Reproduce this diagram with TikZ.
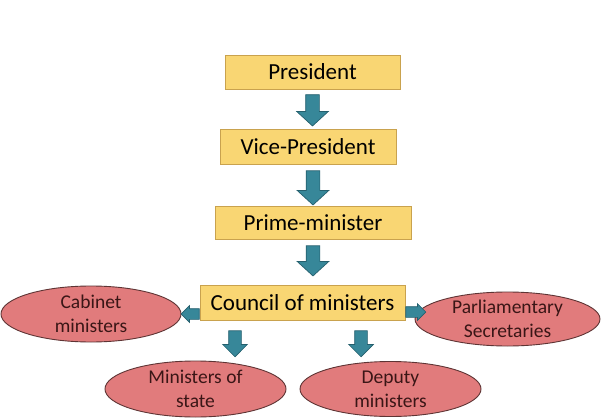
\documentclass[tikz,border=0pt]{standalone}
\usepackage{fontspec}
\setmainfont{Carlito}
\usetikzlibrary{shapes.geometric,shapes.arrows,calc}
\definecolor{boxfill}{HTML}{F9D673}
\definecolor{boxline}{HTML}{C9A24E}
\definecolor{ellfill}{HTML}{E17B7C}
\definecolor{ellline}{HTML}{5E3434}
\definecolor{arrfill}{HTML}{378799}
\definecolor{arrline}{HTML}{245F6D}
\definecolor{elltext}{HTML}{3A1616}
\begin{document}
\begin{tikzpicture}[x=1pt,y=-1pt,
  rankbox/.style={draw=boxline, fill=boxfill, line width=0.8pt, minimum width=#1,
    minimum height=34pt, inner sep=0pt, font=\fontsize{23}{25}\selectfont},
  office/.style={ellipse, draw=ellline, fill=ellfill, line width=0.9pt, inner xsep=0pt,
    inner ysep=-8pt, align=center, font=\fontsize{19.5}{24}\selectfont, text=elltext},
  barrow/.style n args={3}{to path={let \p1=(\tikztostart), \p2=(\tikztotarget),
    \n1={veclen(\x2-\x1,\y2-\y1)}, \n2={atan2(\y2-\y1,\x2-\x1)} in
    node[single arrow, draw=arrline, fill=arrfill, line width=0.7pt, inner xsep=0pt,
      inner ysep=#1, minimum height=\n1, minimum width=0pt, single arrow head extend=#2,
      single arrow tip angle=#3, anchor=tail, rotate=\n2] at (\tikztostart) {}}}
]
\useasboundingbox (0,0) rectangle (616,420);
\fill[white] (0,0) rectangle (616,420);

\node[rankbox=175pt] (pres) at (312.5,72) {President};
\node[rankbox=176pt, minimum height=35pt] (vp) at (308,146.5) {Vice-President};
\node[rankbox=196pt, minimum height=33pt] (pm) at (313,222.5) {Prime-minister};
\node[rankbox=205pt, minimum height=35pt] (council) at (302.5,302.5) {Council of ministers};

\node[office, minimum width=180pt, minimum height=56pt] (cab) at (91,314) {Cabinet\\ministers};
\node[office, minimum width=185pt, minimum height=54pt] (parl) at (507.5,319) {Parliamentary\\Secretaries};
\node[office, minimum width=181pt, minimum height=56pt] (mstate) at (195.5,389) {Ministers of\\state};
\node[office, minimum width=181pt, minimum height=55pt] (deputy) at (390.5,389) {Deputy\\ministers};

\path[barrow={6.5pt}{9pt}{95}] ($(pres.south)+(0,5)$) to ($(vp.north -| pres.south)+(0,-3)$);
\path[barrow={6.5pt}{9pt}{95}] ($(vp.south -| pm.north)+(0,6)$) to ($(pm.north)+(0,-1)$);
\path[barrow={6.5pt}{9pt}{95}] ($(pm.south)+(0,6)$) to ($(council.north -| pm.south)+(0,-9)$);
\path[barrow={5pt}{3pt}{90}] (council.west |- cab.east) to (cab.east);
\path[barrow={5pt}{3pt}{90}] ($(council.east)+(0,9.5)$) to ($(council.east)+(20,9.5)$);
\path[barrow={6pt}{6pt}{90}] ($(council.south)+(-67.5,10)$) to ($(council.south)+(-67.5,36)$);
\path[barrow={6pt}{6pt}{90}] ($(council.south)+(58.5,10)$) to ($(council.south)+(58.5,36)$);
\end{tikzpicture}
\end{document}
